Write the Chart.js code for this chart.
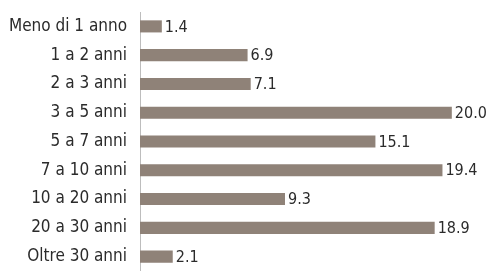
<!DOCTYPE html>
<html lang="it">
<head>
    <meta charset="UTF-8">
    <title>Anni</title>
    <script src="https://cdn.jsdelivr.net/npm/chart.js"></script>
    <style>
        html, body { margin: 0; padding: 0; background: #ffffff; }
        #wrap { width: 489px; height: 271px; }
    </style>
</head>
<body>
    <div id="wrap"><canvas id="barChart"></canvas></div>
    <script>
        const categories = ["Meno di 1 anno", "1 a 2 anni", "2 a 3 anni", "3 a 5 anni", "5 a 7 anni",
            "7 a 10 anni", "10 a 20 anni", "20 a 30 anni", "Oltre 30 anni"];
        const values = [1.4, 6.9, 7.1, 20.0, 15.1, 19.4, 9.3, 18.9, 2.1];

        const fontFamily = '"DejaVu Sans Condensed", sans-serif';

        // draws the value just after the end of each bar
        const valueLabels = {
            id: 'valueLabels',
            afterDatasetsDraw(chart) {
                const ctx = chart.ctx;
                const meta = chart.getDatasetMeta(0);
                ctx.save();
                ctx.font = '16px ' + fontFamily;
                ctx.fillStyle = '#2b2b2b';
                ctx.textBaseline = 'middle';
                ctx.textAlign = 'left';
                meta.data.forEach((bar, i) => {
                    ctx.fillText(values[i].toFixed(1), bar.x + 3, bar.y + 1);
                });
                ctx.restore();
            }
        };

        new Chart(document.getElementById('barChart'), {
            type: 'bar',
            data: {
                labels: categories,
                datasets: [{
                    data: values,
                    backgroundColor: '#8f8278',
                    barPercentage: 0.42,
                    categoryPercentage: 1.0
                }]
            },
            options: {
                indexAxis: 'y',
                responsive: true,
                maintainAspectRatio: false,
                animation: false,
                layout: { padding: { top: 12, right: 6, bottom: 0, left: 0 } },
                plugins: {
                    legend: { display: false },
                    tooltip: { enabled: false }
                },
                scales: {
                    x: {
                        display: false,
                        min: 0,
                        max: 22
                    },
                    y: {
                        grid: { display: false, drawTicks: false },
                        border: { display: true, color: '#bdbdbd', width: 1 },
                        afterFit(scale) {
                            scale.width = 140;
                            scale.paddingTop = 0;
                            scale.paddingBottom = 0;
                        },
                        ticks: {
                            color: '#2b2b2b',
                            padding: 13,
                            font: { family: fontFamily, size: 17 }
                        }
                    }
                }
            },
            plugins: [valueLabels]
        });
    </script>
</body>
</html>
